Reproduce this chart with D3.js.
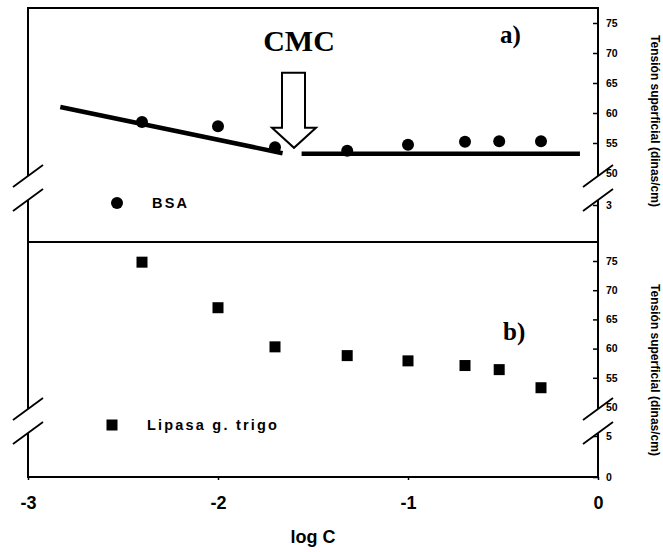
<!DOCTYPE html>
<html>
<head>
<meta charset="utf-8">
<script src="https://cdn.jsdelivr.net/npm/d3@7"></script>
<style>
  body { margin: 0; background: #fff; }
  svg { display: block; }
  .tick text { font-family: "Liberation Sans", Arial, sans-serif; font-weight: bold; }
</style>
</head>
<body>
<script>
const width = 663,
      height = 552;

// log C of each measured sample (shared by both panels)
const logC = [-2.4, -2.0, -1.7, -1.32, -1.0, -0.7, -0.52, -0.3];
// panel a) BSA surface tension (dinas/cm)
const bsaTension = [58.5, 57.8, 54.3, 53.7, 54.7, 55.2, 55.3, 55.3];
// panel b) wheat germ lipase surface tension (dinas/cm)
const lipasaTension = [74.8, 67.0, 60.3, 58.8, 57.9, 57.1, 56.4, 53.3];
// hand-drawn trend lines of panel a), [logC, tension]
const fitBefore = [[-2.83, 61.0], [-1.66, 53.3]];
const fitAfter = [[-1.56, 53.2], [-0.095, 53.2]];
const cmcLogC = -1.6;
const cmcTension = 54.2;

const xTicks = [-3, -2, -1, 0];
const topTicks = [3, 50, 55, 60, 65, 70, 75];
const bottomTicks = [0, 5, 50, 55, 60, 65, 70, 75];

const plotLeft = 28, plotRight = 598;
const plotTop = 8, plotMid = 242, plotBottom = 477;

const svg = d3.select("body").append("svg")
    .attr("width", width)
    .attr("height", height);

const x = d3.scaleLinear().domain([-3, 0]).range([plotLeft, plotRight]);

// broken axes: piecewise scales with a compressed low part
const yTop = d3.scaleLinear().domain([0, 3, 50, 75]).range([plotMid, 205, 173, 23]);
const yBottom = d3.scaleLinear().domain([0, 5, 50, 75]).range([plotBottom, 436, 407, 261]);

const topGap = [yTop(50) + 3, yTop(3) - 5];
const bottomGap = [yBottom(50) + 2, yBottom(5) - 3];

const axisLayer = svg.append("g")
    .attr("stroke", "#000")
    .attr("stroke-width", 2)
    .attr("fill", "none");

// horizontal frame lines
[plotTop, plotMid].forEach(yy => {
    axisLayer.append("line")
      .attr("x1", plotLeft - 1).attr("x2", plotRight + 1)
      .attr("y1", yy).attr("y2", yy);
});

// vertical axis lines, interrupted at the breaks
function verticalAxis(xx, y0, y1, gap) {
    axisLayer.append("line").attr("x1", xx).attr("x2", xx).attr("y1", y0).attr("y2", gap[0]);
    axisLayer.append("line").attr("x1", xx).attr("x2", xx).attr("y1", gap[1]).attr("y2", y1);
    gap.forEach(g => {
        axisLayer.append("line")
          .attr("x1", xx - 15).attr("y1", g + 11)
          .attr("x2", xx + 15).attr("y2", g - 11)
          .attr("stroke-width", 1.8);
    });
}
[plotLeft, plotRight].forEach(xx => {
    verticalAxis(xx, plotTop, plotMid, topGap);
    verticalAxis(xx, plotMid, plotBottom, bottomGap);
});

// right-hand tension axes
function rightAxis(scale, ticks) {
    const g = svg.append("g")
      .attr("transform", `translate(${plotRight},0)`)
      .call(d3.axisRight(scale).tickValues(ticks).tickSize(-5).tickPadding(8).tickFormat(d => String(d)));
    g.select(".domain").remove();
    g.selectAll(".tick line").attr("stroke-width", 1.5).filter(d => d === 50).remove();
    g.selectAll(".tick text").attr("font-size", 10.5).attr("fill", "#000");
}
rightAxis(yTop, topTicks);
rightAxis(yBottom, bottomTicks);

// bottom log C axis
const xAxis = svg.append("g")
    .attr("transform", `translate(0,${plotBottom})`)
    .call(d3.axisBottom(x).tickValues(xTicks).tickSize(3).tickPadding(16).tickFormat(d => String(d)));
xAxis.select(".domain").attr("stroke-width", 2).attr("d", `M${plotLeft - 1},0H${plotRight + 1}`);
xAxis.selectAll(".tick line").attr("stroke-width", 1.5);
xAxis.selectAll(".tick text")
    .attr("font-size", 18)
    .attr("font-weight", "normal")
    .attr("fill", "#000");

svg.append("text")
    .attr("x", 313).attr("y", 543)
    .attr("text-anchor", "middle")
    .attr("font-family", "Liberation Sans, Arial, sans-serif")
    .attr("font-weight", "bold")
    .attr("font-size", 18)
    .text("log C");

// right axis titles
[[655, 121], [655, 370]].forEach(([tx, ty]) => {
    svg.append("text")
      .attr("transform", `translate(${tx},${ty}) rotate(90)`)
      .attr("text-anchor", "middle")
      .attr("dy", "0.35em")
      .attr("font-family", "Liberation Sans, Arial, sans-serif")
      .attr("font-weight", "bold")
      .attr("font-size", 12)
      .text("Tensión superficial (dinas/cm)");
});

// panel a) trend lines
const line = d3.line().x(d => x(d[0])).y(d => yTop(d[1]));
[fitBefore, fitAfter].forEach(seg => {
    svg.append("path")
      .attr("d", line(seg))
      .attr("stroke", "#000")
      .attr("stroke-width", 4.5)
      .attr("fill", "none");
});

// panel a) BSA points
svg.selectAll(".bsa")
    .data(logC.map((c, i) => [c, bsaTension[i]]))
    .enter().append("circle")
    .attr("class", "bsa")
    .attr("cx", d => x(d[0]))
    .attr("cy", d => yTop(d[1]))
    .attr("r", 6)
    .attr("fill", "#000");

// panel b) lipase points
const sq = 11;
svg.selectAll(".lipasa")
    .data(logC.map((c, i) => [c, lipasaTension[i]]))
    .enter().append("rect")
    .attr("class", "lipasa")
    .attr("x", d => x(d[0]) - sq / 2)
    .attr("y", d => yBottom(d[1]) - sq / 2)
    .attr("width", sq)
    .attr("height", sq)
    .attr("fill", "#000");

// CMC arrow (hollow, pointing down)
const ax = x(cmcLogC), tipY = yTop(cmcTension);
const arrowPts = [
    [ax - 12, tipY - 75], [ax + 11, tipY - 75], [ax + 11, tipY - 20], [ax + 22, tipY - 20],
    [ax, tipY], [ax - 22, tipY - 20], [ax - 12, tipY - 20]
];
svg.append("polygon")
    .attr("points", arrowPts.map(p => p.join(",")).join(" "))
    .attr("fill", "#fff")
    .attr("stroke", "#000")
    .attr("stroke-width", 2);

svg.append("text")
    .attr("x", ax + 5).attr("y", 51)
    .attr("text-anchor", "middle")
    .attr("font-family", "Liberation Serif, Times New Roman, serif")
    .attr("font-weight", "bold")
    .attr("font-size", 30)
    .text("CMC");

[["a)", 500, 43], ["b)", 503, 340]].forEach(([t, tx, ty]) => {
    svg.append("text")
      .attr("x", tx).attr("y", ty)
      .attr("font-family", "Liberation Serif, Times New Roman, serif")
      .attr("font-weight", "bold")
      .attr("font-size", 25)
      .text(t);
});

// legends
svg.append("circle").attr("cx", 117).attr("cy", 203).attr("r", 6).attr("fill", "#000");
svg.append("rect").attr("x", 112 - 5.5).attr("y", 425 - 5.5).attr("width", 11).attr("height", 11).attr("fill", "#000");
[["BSA", 152, 208], ["Lipasa g. trigo", 147, 430]].forEach(([t, tx, ty]) => {
    svg.append("text")
      .attr("x", tx).attr("y", ty)
      .attr("font-family", "Liberation Sans, Arial, sans-serif")
      .attr("font-weight", "bold")
      .attr("font-size", 14.5)
      .attr("letter-spacing", 2.2)
      .text(t);
});
</script>
</body>
</html>
